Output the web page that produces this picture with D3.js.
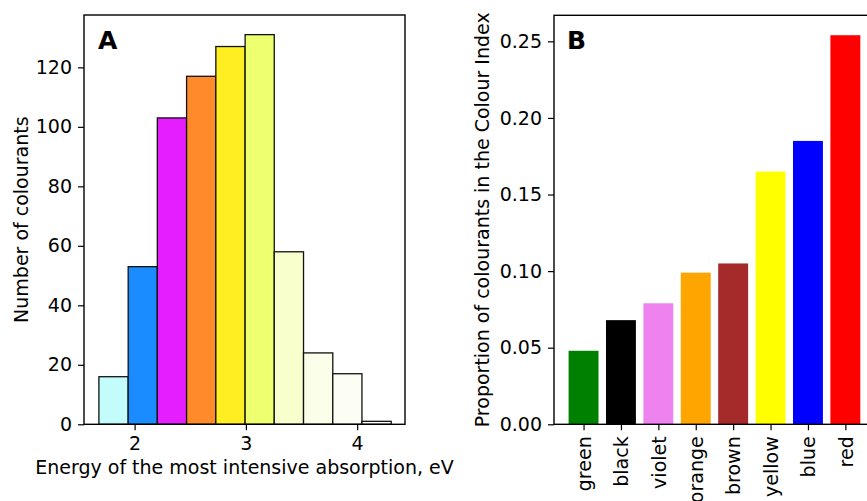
<!DOCTYPE html>
<html>
<head>
<meta charset="utf-8">
<script src="https://cdn.jsdelivr.net/npm/d3@7"></script>
<style>
  html, body { margin: 0; padding: 0; background: #fff; }
  svg { display: block; font-family: "DejaVu Sans", sans-serif; }
</style>
</head>
<body>
<svg id="chart" width="867" height="501"></svg>
<script>
// ---- Panel A data: histogram of absorption energy (eV) ----
const binEdges = [1.679, 1.942, 2.204, 2.467, 2.730, 2.993, 3.255, 3.518, 3.781, 4.043, 4.306];
const binCounts = [16, 53, 103, 117, 127, 131, 58, 24, 17, 1];
const binColors = ["#c2fdfc", "#1a8cff", "#e41eff", "#ff8a2a", "#ffee22", "#eeff70", "#f8fecc", "#fbfee9", "#fdfef3", "#fffffa"];
const xTicksA = [2, 3, 4];
const yTicksA = [0, 20, 40, 60, 80, 100, 120];

// ---- Panel B data: proportion of colourants by colour ----
const categories = ["green", "black", "violet", "orange", "brown", "yellow", "blue", "red"];
const proportions = [0.048, 0.068, 0.079, 0.099, 0.105, 0.165, 0.185, 0.254];
const catColors = ["#008000", "#000000", "#ee82ee", "#ffa500", "#a52a2a", "#ffff00", "#0000ff", "#ff0000"];
const yTicksB = [0.00, 0.05, 0.10, 0.15, 0.20, 0.25];

const svg = d3.select("#chart");
const FS = 19;
const tickLen = 6, tickPad = 6;
const spineW = 1.4;

// ================= Panel A =================
const A = { left: 84, right: 405, top: 15, bottom: 424.3 };
const xA = d3.scaleLinear().domain([1.545, 4.43]).range([A.left, A.right]);
const yA = d3.scaleLinear().domain([0, 137.6]).range([A.bottom, A.top]);

const gA = svg.append("g");
gA.selectAll("rect.bin")
  .data(binCounts)
  .join("rect")
  .attr("class", "bin")
  .attr("x", (d, i) => xA(binEdges[i]))
  .attr("width", (d, i) => xA(binEdges[i + 1]) - xA(binEdges[i]))
  .attr("y", d => yA(d))
  .attr("height", d => yA(0) - yA(d))
  .attr("fill", (d, i) => binColors[i])
  .attr("stroke", "#111")
  .attr("stroke-width", 1.3);

// axes A
const axLeftA = d3.axisLeft(yA).tickValues(yTicksA).tickSize(tickLen).tickPadding(tickPad).tickFormat(d3.format("d"));
const axBotA = d3.axisBottom(xA).tickValues(xTicksA).tickSize(tickLen).tickPadding(tickPad).tickFormat(d3.format("d"));
const gyA = gA.append("g").attr("transform", `translate(${A.left},0)`).call(axLeftA);
const gxA = gA.append("g").attr("transform", `translate(0,${A.bottom})`).call(axBotA);
[gyA, gxA].forEach(g => {
  g.select(".domain").remove();
  g.selectAll("line").attr("stroke", "#000").attr("stroke-width", 1.2);
  g.selectAll("text").attr("font-size", FS).attr("fill", "#000").attr("font-family", "DejaVu Sans");
});
gA.append("rect")
  .attr("x", A.left).attr("y", A.top)
  .attr("width", A.right - A.left).attr("height", A.bottom - A.top)
  .attr("fill", "none").attr("stroke", "#000").attr("stroke-width", spineW);

gA.append("text")
  .attr("x", (A.left + A.right) / 2).attr("y", 474)
  .attr("text-anchor", "middle").attr("font-size", FS)
  .text("Energy of the most intensive absorption, eV");
gA.append("text")
  .attr("transform", `translate(28,${(A.top + A.bottom) / 2}) rotate(-90)`)
  .attr("text-anchor", "middle").attr("font-size", FS)
  .text("Number of colourants");
gA.append("text")
  .attr("x", 98).attr("y", 49)
  .attr("font-size", 25).attr("font-weight", "bold")
  .text("A");

// ================= Panel B =================
const B = { left: 554, top: 15.3, bottom: 424.3 };
const xB = d3.scaleLinear().domain([-0.79, 7.79]).range([B.left, 874.9]);
const yB = d3.scaleLinear().domain([0, 0.267]).range([B.bottom, B.top]);
const barW = 0.8;

const gB = svg.append("g");
gB.selectAll("rect.bar")
  .data(proportions)
  .join("rect")
  .attr("class", "bar")
  .attr("x", (d, i) => xB(i - barW / 2))
  .attr("width", (d, i) => xB(i + barW / 2) - xB(i - barW / 2))
  .attr("y", d => yB(d))
  .attr("height", d => yB(0) - yB(d))
  .attr("fill", (d, i) => catColors[i]);

const axLeftB = d3.axisLeft(yB).tickValues(yTicksB).tickSize(tickLen).tickPadding(tickPad).tickFormat(d3.format(".2f"));
const gyB = gB.append("g").attr("transform", `translate(${B.left},0)`).call(axLeftB);
gyB.select(".domain").remove();
gyB.selectAll("line").attr("stroke", "#000").attr("stroke-width", 1.2);
gyB.selectAll("text").attr("font-size", FS).attr("fill", "#000").attr("font-family", "DejaVu Sans");

const axBotB = d3.axisBottom(xB).tickValues(d3.range(categories.length)).tickSize(tickLen).tickFormat(i => categories[i]);
const gxB = gB.append("g").attr("transform", `translate(0,${B.bottom})`).call(axBotB);
gxB.select(".domain").remove();
gxB.selectAll("line").attr("stroke", "#000").attr("stroke-width", 1.2);
gxB.selectAll("text")
  .attr("font-size", FS).attr("fill", "#000").attr("font-family", "DejaVu Sans")
  .attr("text-anchor", "end")
  .attr("dy", "0.35em")
  .attr("y", 0)
  .attr("transform", `translate(0,${tickLen + tickPad}) rotate(-90)`);

// spines B (left, top, bottom; right lies beyond the canvas)
gB.append("rect")
  .attr("x", B.left).attr("y", B.top)
  .attr("width", 874.9 - B.left).attr("height", B.bottom - B.top)
  .attr("fill", "none").attr("stroke", "#000").attr("stroke-width", spineW);

gB.append("text")
  .attr("transform", `translate(489,${(B.top + B.bottom) / 2}) rotate(-90)`)
  .attr("text-anchor", "middle").attr("font-size", FS)
  .text("Proportion of colourants in the Colour Index");
gB.append("text")
  .attr("x", 567).attr("y", 49)
  .attr("font-size", 25).attr("font-weight", "bold")
  .text("B");
</script>
</body>
</html>
